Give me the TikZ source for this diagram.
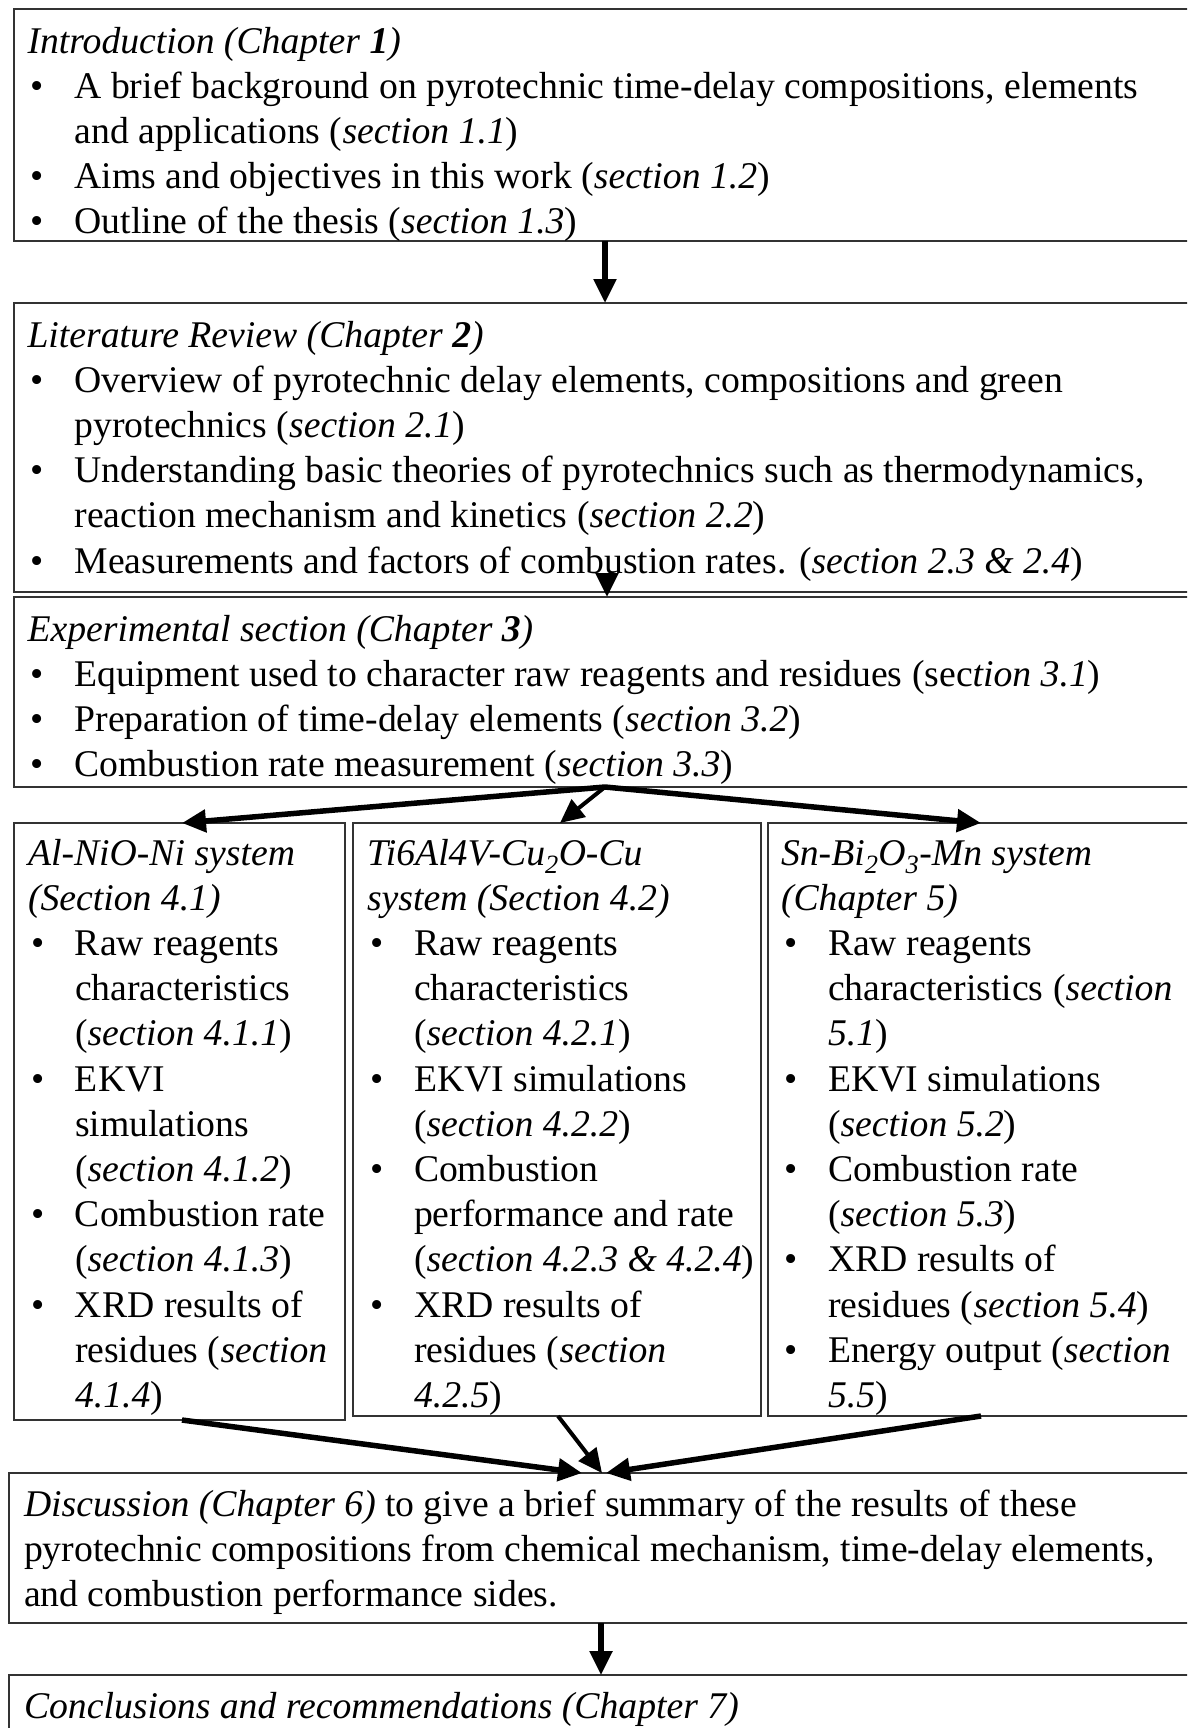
\documentclass[tikz,border=0pt]{standalone}
\usepackage{fontspec}
\setmainfont{Liberation Serif}
\usetikzlibrary{arrows.meta}
\newcommand{\bl}{\hspace*{3pt}\makebox[44pt][l]{•}}
\newcommand{\cl}{\hspace*{47pt}}
\begin{document}
\begin{tikzpicture}[x=1pt,y=-1pt,
  box/.style={draw=black!80, line width=1.6pt, inner sep=0pt, outer sep=0pt, anchor=north west},
  txt/.style={anchor=north west, inner sep=0pt, outer sep=0pt, align=left, font=\fontsize{37.7}{45.2}\selectfont},
  arr/.style={-{Triangle[width=22pt,length=24pt]}, line width=5.5pt},
  arrthin/.style={arr, line width=4pt},
]
\useasboundingbox (0,0) rectangle (1187,1728);
\clip (0,0) rectangle (1187,1728);

% boxes
\node[box, minimum width=1200pt, minimum height=232pt] (b1) at (14,9) {};
\node[box, minimum width=1200pt, minimum height=289pt] (b2) at (14,303) {};
\node[box, minimum width=1200pt, minimum height=190pt] (b3) at (14,597) {};
\node[box, minimum width=331pt, minimum height=597pt] (bA) at (14,823) {};
\node[box, minimum width=408pt, minimum height=593pt] (bB) at (353,823) {};
\node[box, minimum width=500pt, minimum height=593pt] (bC) at (768,823) {};
\node[box, minimum width=1200pt, minimum height=150pt] (bD) at (9,1473) {};
\node[box, minimum width=1200pt, minimum height=100pt] (bE) at (9,1675) {};

% texts
\node[txt] (t1) at (27.5,21.4) {\strut\textit{Introduction (Chapter \textbf{1})}\\
\bl A brief background on pyrotechnic time-delay compositions, elements\\
\cl and applications (\textit{section 1.1})\\
\bl Aims and objectives in this work (\textit{section 1.2})\\
\bl Outline of the thesis (\textit{section 1.3})};

\node[txt] (t2) at (27.5,315.4) {\strut\textit{Literature Review (Chapter \textbf{2})}\\
\bl Overview of pyrotechnic delay elements, compositions and green\\
\cl pyrotechnics (\textit{section 2.1})\\
\bl Understanding basic theories of pyrotechnics such as thermodynamics,\\
\cl reaction mechanism and kinetics (\textit{section 2.2})\\
\bl Measurements and factors of combustion rates. (\textit{section 2.3 \& 2.4})};

\node[txt] (t3) at (27.5,609.4) {\strut\textit{Experimental section (Chapter \textbf{3})}\\
\bl Equipment used to character raw reagents and residues (sec\textit{tion 3.1})\\
\bl Preparation of time-delay elements (\textit{section 3.2})\\
\bl Combustion rate measurement (\textit{section 3.3})};

\node[txt] (tA) at (28,833.4) {\strut\textit{Al-NiO-Ni system}\\
\textit{(Section 4.1)}\\
\bl Raw reagents\\
\cl characteristics\\
\cl (\textit{section 4.1.1})\\
\bl EKVI\\
\cl simulations\\
\cl (\textit{section 4.1.2})\\
\bl Combustion rate\\
\cl (\textit{section 4.1.3})\\
\bl XRD results of\\
\cl residues (\textit{section}\\
\cl \textit{4.1.4})};

\node[txt] (tB) at (367,833.4) {\strut\textit{Ti6Al4V-Cu\textsubscript{2}O-Cu}\\
\textit{system (Section 4.2)}\\
\bl Raw reagents\\
\cl characteristics\\
\cl (\textit{section 4.2.1})\\
\bl EKVI simulations\\
\cl (\textit{section 4.2.2})\\
\bl Combustion\\
\cl performance and rate\\
\cl (\textit{section 4.2.3 \& 4.2.4})\\
\bl XRD results of\\
\cl residues (\textit{section}\\
\cl \textit{4.2.5})};

\node[txt] (tC) at (781,833.4) {\strut\textit{Sn-Bi\textsubscript{2}O\textsubscript{3}-Mn system}\\
\textit{(Chapter 5)}\\
\bl Raw reagents\\
\cl characteristics (\textit{section}\\
\cl \textit{5.1})\\
\bl EKVI simulations\\
\cl (\textit{section 5.2})\\
\bl Combustion rate\\
\cl (\textit{section 5.3})\\
\bl XRD results of\\
\cl residues (\textit{section 5.4})\\
\bl Energy output (\textit{section}\\
\cl \textit{5.5})};

\node[txt] (tD) at (24,1484.4) {\strut\textit{Discussion (Chapter 6)} to give a brief summary of the results of these\\
pyrotechnic compositions from chemical mechanism, time-delay elements,\\
and combustion performance sides.};

\node[txt] (tE) at (24,1686.4) {\strut\textit{Conclusions and recommendations (Chapter 7)}};

% connector x positions
\coordinate (xm) at (605,0);
\coordinate (xa2) at (607,0);
\coordinate (cA) at (182,0);
\coordinate (cB) at (560,0);
\coordinate (cC) at (981,0);
\coordinate (dA) at (582,0);
\coordinate (sB) at (558,0);
\coordinate (dB) at (602,0);
\coordinate (dC) at (606,0);
\coordinate (xe) at (601,0);

\draw[arr] (b1.south -| xm) -- (b2.north -| xm);
\draw[arr] (b2.south -| xa2) -- (b3.north -| xa2);
\draw[arr] (b3.south -| xm) -- (bA.north -| cA);
\draw[arrthin] (b3.south -| xm) -- (bB.north -| cB);
\draw[arr] (b3.south -| xm) -- (bC.north -| cC);
\draw[arr] (bA.south -| cA) -- (bD.north -| dA);
\draw[arrthin] (bB.south -| sB) -- (bD.north -| dB);
\draw[arr] (bC.south -| cC) -- (bD.north -| dC);
\draw[arr] (bD.south -| xe) -- (bE.north -| xe);
\end{tikzpicture}
\end{document}
